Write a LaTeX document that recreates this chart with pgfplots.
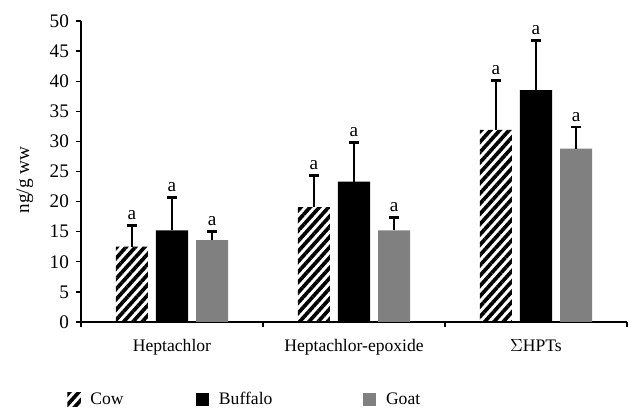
\documentclass[border=0pt]{standalone}
\usepackage{fontspec}
\setmainfont{Liberation Serif}
\usepackage{pgfplots}
\pgfplotsset{compat=1.18}
\usetikzlibrary{patterns.meta}
\definecolor{goatgray}{RGB}{128,128,128}

\begin{document}
\begin{tikzpicture}
\path[use as bounding box] (-50.625pt,-60pt) rectangle (350.625pt,201.25pt);
\begin{axis}[
  scale only axis, width=341.25pt, height=188.125pt,
  /pgf/number format/assume math mode=true,
  xmin=-0.5, xmax=2.5, ymin=0, ymax=50,
  axis x line=bottom, axis y line=left,
  axis line style={-, line width=0.8pt, black},
  tick style={line width=0.8pt, black}, tick align=outside,
  major tick length=3pt,
  ytick={0,5,...,50},
  xtick={-0.5,0.5,1.5,2.5},
  xticklabels={Heptachlor, Heptachlor-epoxide, $\Sigma$HPTs, {}},
  xticklabel style={xshift=56.875pt, yshift=-4.5pt, font=\fontsize{11}{13}\selectfont},
  yticklabel style={xshift=-1pt, font=\fontsize{12}{14}\selectfont},
  ylabel={ng/g ww},
  ylabel style={at={(axis description cs:-0.1026,0.472)}, anchor=center,
    font=\fontsize{12}{14}\selectfont},
  legend columns=3,
  legend style={draw=none, inner sep=0pt, at={(0,0)}, anchor=west,
    xshift=-8.75pt, yshift=-48.5pt, font=\fontsize{11}{13}\selectfont},
  legend image code/.code={\fill[#1] (0pt,-4.2pt) rectangle (8.4pt,4.2pt);},
]
\addplot[ybar, bar width=0.176, bar shift=-0.22, draw=none,
  pattern={Lines[angle=48,distance=4.3pt,line width=2.3pt]}, pattern color=black]
  coordinates {(0,12.5) (1,19.1) (2,31.9)};
\addlegendentry{\makebox[68pt][l]{\hspace{4pt}Cow}}
\addplot[ybar, bar width=0.176, bar shift=0, draw=none, fill=black]
  coordinates {(0,15.2) (1,23.3) (2,38.5)};
\addlegendentry{\makebox[92pt][l]{\hspace{4pt}Buffalo}}
\addplot[ybar, bar width=0.176, bar shift=0.22, draw=none, fill=goatgray]
  coordinates {(0,13.6) (1,15.2) (2,28.8)};
\addlegendentry{\hspace{4pt}Goat}
% upward error bars with caps
\addplot[draw=none, mark=none, forget plot,
  error bars/.cd, y dir=plus, y explicit,
  error bar style={draw=black, line width=0.9pt, solid},
  error mark options={rotate=90, draw=black, line width=1.6pt, mark size=3.1pt, solid}]
  coordinates {(-0.22,12.5) +- (0,3.5) (0,15.2) +- (0,5.5) (0.22,13.6) +- (0,1.4)
               (0.78,19.1) +- (0,5.2) (1,23.3) +- (0,6.5) (1.22,15.2) +- (0,2.2)
               (1.78,31.9) +- (0,8.2) (2,38.5) +- (0,8.3) (2.22,28.8) +- (0,3.6)};
% significance letters above the error bars
\addplot[draw=none, mark=none, forget plot,
  nodes near coords={a}, nodes near coords align={above},
  every node near coord/.append style={font=\fontsize{12}{14}\selectfont, black}]
  coordinates {(-0.22,16.0) (0,20.7) (0.22,15.0)
               (0.78,24.3) (1,29.8) (1.22,17.4)
               (1.78,40.1) (2,46.8) (2.22,32.4)};
\end{axis}
\end{tikzpicture}
\end{document}
